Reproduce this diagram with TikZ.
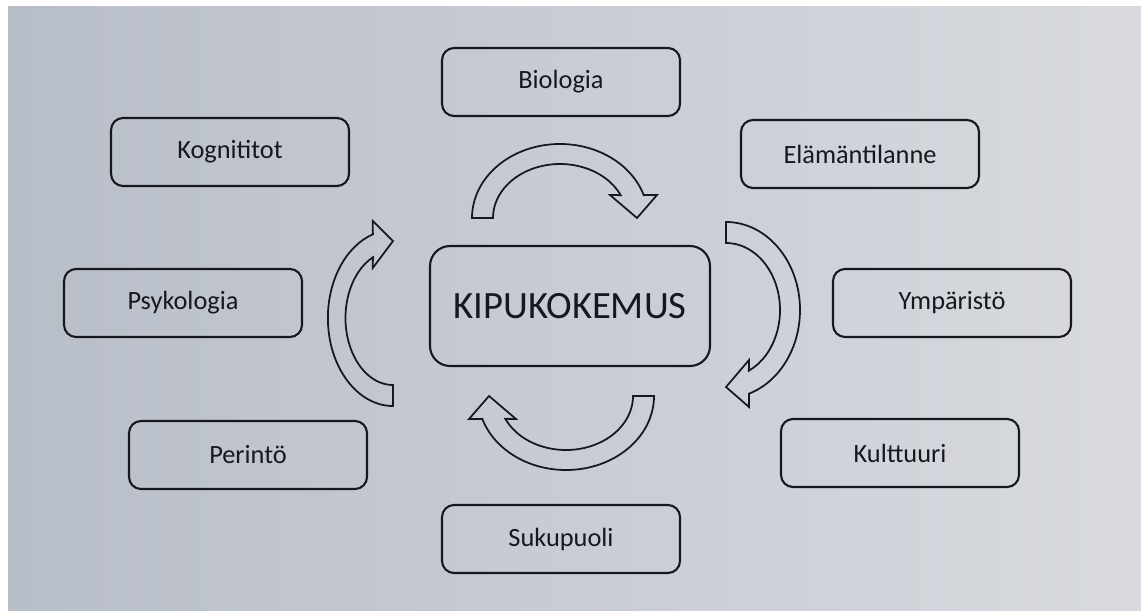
\documentclass[tikz,border=0pt]{standalone}
\usepackage{fontspec}
\setmainfont{Carlito}
\usepackage{xcolor}
\usepackage{tikz}
\definecolor{paperL}{RGB}{184,190,200}
\definecolor{paperR}{RGB}{216,218,223}
\definecolor{ink}{RGB}{22,24,30}
\newcommand{\drawCycleArrow}[4]{% center: x,y; rotation; squeeze
  \begin{scope}[shift={(#1,#2)},rotate=#3,yscale=#4]
  \draw[ink,line width=1pt] (180:88 and 74) arc[start angle=180,end angle=342,x radius=88,y radius=74]
    -- (97,-23) -- (77,0) -- (50,-23) -- (335:67 and 54)
    arc[start angle=335,end angle=180,x radius=67,y radius=54] -- cycle;
  \end{scope}
}

\begin{document}
\begin{tikzpicture}[x=0.02cm,y=-0.02cm,
  factor/.style={draw=ink,line width=1.2pt,rounded corners=0.24cm,minimum width=4.76cm,minimum height=1.36cm,inner sep=0pt,text=ink,font=\fontsize{15}{18}\selectfont},
  core/.style={factor,rounded corners=0.4cm,minimum width=5.6cm,minimum height=2.4cm,font=\fontsize{22}{26}\selectfont}]
% Paper
\useasboundingbox (0,0) rectangle (1141,611);
\shade[left color=paperL,right color=paperR] (8,7) rectangle (1141,611);

% Centre
\node[core] (kipu) at (570,306) {KIPUKOKEMUS};

% Factors
\node[factor] (biologia) at (561,82) {Biologia};
\node[factor] (kognititot) at (230,152) {Kognititot};
\node[factor] (elama) at (860,154) {Elämäntilanne};
\node[factor] (psykologia) at (183,303) {Psykologia};
\node[factor] (ymparisto) at (952,303) {Ympäristö};
\node[factor] (perinto) at (248,455) {Perintö};
\node[factor] (kulttuuri) at (900,453) {Kulttuuri};
\node[factor] (sukupuoli) at (561,539) {Sukupuoli};

% Cycle arrows
\drawCycleArrow{560}{218}{0}{1}
\drawCycleArrow{726}{310}{-90}{1}
\drawCycleArrow{566}{396}{180}{1}
\drawCycleArrow{393}{318}{90}{0.88}
\end{tikzpicture}
\end{document}
